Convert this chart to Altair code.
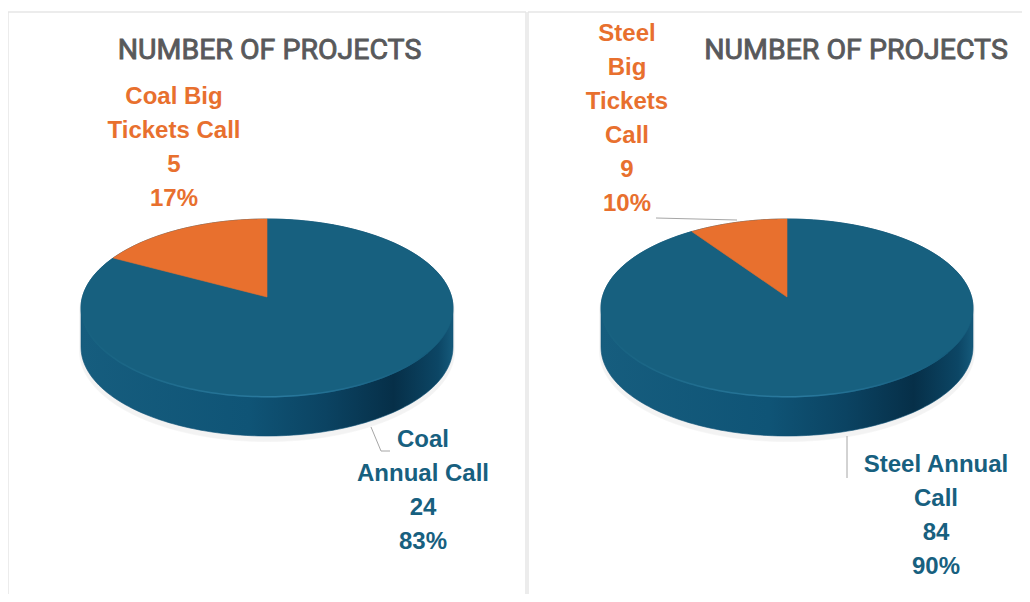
import numpy as np
import pandas as pd
import altair as alt

# ---- values
panels = ["Coal", "Steel"]
big_values = [5, 9]
annual_values = [24, 84]
big_pct = ["17%", "10%"]
annual_pct = ["83%", "90%"]
big_names = [["Coal Big", "Tickets Call"], ["Steel", "Big", "Tickets", "Call"]]
annual_names = [["Coal", "Annual Call"], ["Steel Annual", "Call"]]
title_text = "NUMBER OF PROJECTS"

# ---- styling / layout
ORANGE, BLUE, GREY = "#e8702e", "#17607f", "#58595b"
W, H = 1014, 586
CX = [267, 787]          # pie centres
RX, RY, RIM_Y, APEX_Y, DEPTH = 186, 89, 308, 297, 39
TITLE_X = [269.5, 856]
BIG_X = [174, 627]
BIG_Y = [96.5, 33.5]
ANNUAL_X = [423, 936]
ANNUAL_Y = [439.5, 464.5]
LINE_H = 34.0


def rim_angle(frac):
    """Rim parameter hit by the slice edge of a tilted disc whose apex sits above the rim centre."""
    th = 2 * np.pi * frac
    dx, dy = RX * np.sin(th), -RY * np.cos(th)
    off = APEX_Y - RIM_Y
    a = (dx / RX) ** 2 + (dy / RY) ** 2
    b = 2 * off * dy / RY ** 2
    c = (off / RY) ** 2 - 1
    t = (-b + np.sqrt(b * b - 4 * a * c)) / (2 * a)
    return np.arctan2(t * dx / RX, -(off + t * dy) / RY)


def wedge(cx, f0, f1, key):
    a0, a1 = rim_angle(f0) % (2 * np.pi), rim_angle(f1) % (2 * np.pi)
    if a1 <= a0:
        a1 += 2 * np.pi
    ang = np.linspace(a0, a1, 120)
    xs = np.r_[cx, cx + RX * np.sin(ang), cx]
    ys = np.r_[APEX_Y, RIM_Y - RY * np.cos(ang), APEX_Y]
    return pd.DataFrame({"x": xs, "y": ys, "k": key, "o": np.arange(len(xs))})


def body(cx, key, grow=0.0, dy=0.0):
    up = np.linspace(np.pi, 0, 100)
    low = np.linspace(0, -np.pi, 100)
    xs = np.r_[cx + (RX + grow) * np.cos(up), cx + (RX + grow) * np.cos(low), cx - RX - grow]
    ys = np.r_[RIM_Y + dy - (RY + grow) * np.sin(up),
               RIM_Y + dy + DEPTH - (RY + grow) * np.sin(low), RIM_Y + dy]
    return pd.DataFrame({"x": xs, "y": ys, "k": key, "o": np.arange(len(xs))})


def front_rim(cx, key):
    a = np.linspace(np.radians(120), np.radians(262), 100)
    return pd.DataFrame({"x": cx + RX * np.sin(a) * 0.997, "y": RIM_Y - RY * np.cos(a) * 0.997,
                         "k": key, "o": np.arange(100)})


bodies, shadows, oranges, blues, rims = [], [], [], [], []
for i, p in enumerate(panels):
    total = big_values[i] + annual_values[i]
    f = big_values[i] / total
    bodies.append(body(CX[i], p))
    shadows.append(body(CX[i], p, grow=1.5, dy=4))
    blues.append(wedge(CX[i], 0.0, 1 - f, p))
    oranges.append(wedge(CX[i], 1 - f, 1.0, p))
    rims.append(front_rim(CX[i], p))

x_s = alt.Scale(domain=[8, 8 + W], range=[0, W], nice=False, zero=False)
y_s = alt.Scale(domain=[8, 8 + H], range=[0, H], nice=False, zero=False)
X = alt.X("x:Q", scale=x_s, axis=None)
Y = alt.Y("y:Q", scale=y_s, axis=None)


def poly(frames, fill, stroke=None, **kw):
    st = stroke if stroke is not None else fill
    return alt.Chart(pd.concat(frames)).mark_line(fill=fill, stroke=st, strokeWidth=0.6, **kw).encode(
        x=X, y=Y, detail="k:N", order="o:Q")


side_fill = alt.Gradient(
    gradient="linear", x1=0, x2=1, y1=0, y2=0,
    stops=[alt.GradientStop(offset=0, color="#165d7e"),
           alt.GradientStop(offset=0.45, color="#0f5476"),
           alt.GradientStop(offset=0.66, color="#0b4362"),
           alt.GradientStop(offset=0.84, color="#062f48"),
           alt.GradientStop(offset=0.96, color="#0c4665"),
           alt.GradientStop(offset=1, color="#155a7b")])
rim_stroke = alt.Gradient(
    gradient="linear", x1=0, x2=1, y1=0, y2=0,
    stops=[alt.GradientStop(offset=0, color="#17617f"),
           alt.GradientStop(offset=0.55, color="#2a7a9f"),
           alt.GradientStop(offset=1, color="#155c7c")])

layers = [
    poly(shadows, "#e9e9e9", opacity=0.5),
    poly(bodies, side_fill, "#0e5175"),
    poly(blues, BLUE),
    poly(oranges, ORANGE),
    alt.Chart(pd.concat(rims)).mark_line(stroke=rim_stroke, strokeWidth=1.5).encode(
        x=X, y=Y, detail="k:N", order="o:Q"),
]

# ---- frame lines and leaders
frame = pd.DataFrame({"x": [8, 8, 526, 526, 528, 528, 8, 526, 528, 1022],
                      "y": [12, 594, 12, 594, 12, 594, 12, 12, 12, 12],
                      "k": ["a", "a", "b", "b", "c", "c", "e", "e", "f", "f"],
                      "o": [0, 1, 0, 1, 0, 1, 0, 1, 0, 1]})
layers.append(alt.Chart(frame).mark_line(stroke="#e6e6e6", strokeWidth=1.5).encode(
    x=X, y=Y, detail="k:N", order="o:Q"))

leaders = pd.DataFrame({
    "x": [371, 381, 390, 847, 847, 656, 737],
    "y": [427, 451, 451, 436, 478, 218, 220],
    "k": ["a", "a", "a", "b", "b", "c", "c"],
    "o": [0, 1, 2, 0, 1, 0, 1]})
layers.append(alt.Chart(leaders).mark_line(stroke="#a6a6a6", strokeWidth=1).encode(
    x=X, y=Y, detail="k:N", order="o:Q"))


# ---- text
def label_rows(x, y0, lines):
    return [{"x": x, "y": y0 + n * LINE_H, "t": s} for n, s in enumerate(lines)]


orange_rows, blue_rows = [], []
for i in range(2):
    orange_rows += label_rows(BIG_X[i], BIG_Y[i], big_names[i] + [str(big_values[i]), big_pct[i]])
    blue_rows += label_rows(ANNUAL_X[i], ANNUAL_Y[i], annual_names[i] + [str(annual_values[i]), annual_pct[i]])

for rows, col in ((orange_rows, ORANGE), (blue_rows, BLUE)):
    layers.append(alt.Chart(pd.DataFrame(rows)).mark_text(
        font="Liberation Sans", fontWeight="bold", fontSize=24, color=col,
        align="center", baseline="middle").encode(x=X, y=Y, text="t:N"))

titles = pd.DataFrame({"x": TITLE_X, "y": [49.5, 49.5], "t": [title_text, title_text]})
layers.append(alt.Chart(titles).mark_text(
    font="Roboto", fontSize=28.5, color=GREY, stroke=GREY, strokeWidth=0.9,
    align="center", baseline="middle").encode(x=X, y=Y, text="t:N"))

chart = alt.layer(*layers).properties(
    width=W, height=H, padding=0, background="#ffffff",
    autosize=alt.AutoSizeParams(type="none")
).configure_view(stroke=None)

chart.save("out.html", embed_options={"renderer": "svg", "actions": False})
